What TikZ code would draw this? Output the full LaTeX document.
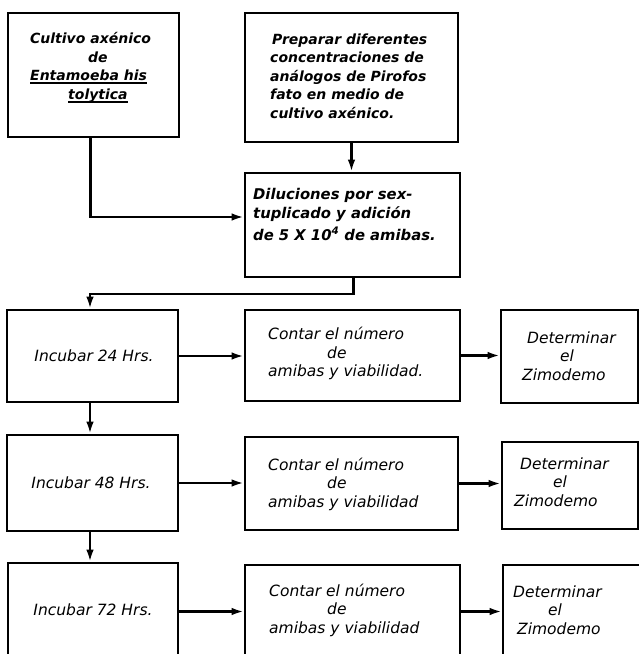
\documentclass[tikz,border=0pt]{standalone}
\usepackage{fontspec}
\setmainfont{DejaVu Sans}
\usetikzlibrary{arrows.meta}
\newcommand\myul[1]{\setbox0\hbox{#1}\rlap{\raisebox{-3.5pt}{\rule{\wd0}{1.8pt}}}\box0}
\begin{document}
\begin{tikzpicture}[x=1pt,y=-1pt,
  box/.style={draw, line width=2.6pt, rectangle, inner sep=0pt},
  arr/.style={line width=2.3pt, -{Latex[length=12pt,width=7.5pt]}},
  txt/.style={font=\fontsize{15.5}{18.5}\selectfont\itshape, align=left, inner sep=0pt},
  btxt/.style={font=\fontsize{14}{18.5}\selectfont\bfseries\itshape, align=left, inner sep=0pt}]
\useasboundingbox (0,0) rectangle (639,654);
\clip (0,0) rectangle (639,654);
% boxes
\node[box, minimum width=171pt, minimum height=124pt] (A) at (93.5,75) {};
\node[box, minimum width=213pt, minimum height=129pt] (B) at (351.5,77.5) {};
\node[box, minimum width=215pt, minimum height=104pt] (C) at (352.5,225) {};
\node[box, minimum width=171pt, minimum height=92pt] (D) at (92.5,356) {};
\node[box, minimum width=215pt, minimum height=91pt] (E) at (352.5,355.5) {};
\node[box, minimum width=137pt, minimum height=93pt] (F) at (569.5,356.5) {};
\node[box, minimum width=171pt, minimum height=96pt] (G) at (92.5,483) {};
\node[box, minimum width=213pt, minimum height=93pt] (H) at (351.5,483.5) {};
\node[box, minimum width=136pt, minimum height=87pt] (I) at (570,485.5) {};
\node[box, minimum width=170pt, minimum height=97pt] (J) at (93,611.5) {};
\node[box, minimum width=215pt, minimum height=93pt] (K) at (352.5,611.5) {};
\node[box, minimum width=137pt, minimum height=95pt] (L) at (571.5,612.5) {};
% texts
\node[btxt, anchor=west] (At) at (30,67.5) {Cultivo axénico\\\hspace*{58pt}de\\\myul{Entamoeba his}\\\hspace*{38pt}\myul{tolytica}};
\node[btxt, anchor=west] (Bt) at (270,76) {\hspace*{2pt}Preparar diferentes\\concentraciones de\\análogos de Pirofos\\fato en medio de\\cultivo axénico.};
\node[btxt, font=\fontsize{14.8}{19}\selectfont\bfseries\itshape, anchor=west] (Ct) at (253,214) {Diluciones por sex-\\tuplicado y adición\\[3pt]de 5 X 10\textsuperscript{4} de amibas.};
\node[txt] (Dt) at (94,356) {Incubar 24 Hrs.};
\node[txt, anchor=west] (Et) at (268,353.5) {Contar el número\\\hspace*{59pt}de\\amibas y viabilidad.};
\node[txt, anchor=west] (Ft) at (522,356) {\hspace*{5pt}Determinar\\\hspace*{38pt}el\\Zimodemo};
\node[txt] (Gt) at (91,483) {Incubar 48 Hrs.};
\node[txt, anchor=west] (Ht) at (268,484) {Contar el número\\\hspace*{59pt}de\\amibas y viabilidad};
\node[txt, anchor=west] (It) at (514,482) {\hspace*{6pt}Determinar\\\hspace*{39pt}el\\Zimodemo};
\node[txt] (Jt) at (93,610) {Incubar 72 Hrs.};
\node[txt, anchor=west] (Kt) at (269,610) {Contar el número\\\hspace*{58pt}de\\amibas y viabilidad};
\node[txt, anchor=west] (Lt) at (513,610) {Determinar\\\hspace*{35pt}el\\\hspace*{4pt}Zimodemo};
% connectors
\draw[arr] ([xshift=-3pt]A.south) |- ([yshift=8pt]C.west);
\draw[arr] (B.south) -- (B.south |- C.north);
\coordinate (cd) at (90,294);
\draw[arr] ([xshift=1pt]C.south) |- (cd) -- (cd |- D.north);
\draw[arr] (D.east) -- (D.east -| E.west);
\draw[arr] (E.east) -- (E.east -| F.west);
\draw[arr] ([xshift=-2.5pt]D.south) -- ([xshift=-2.5pt]D.south |- G.north);
\draw[arr] (G.east) -- (G.east -| H.west);
\draw[arr] (H.east) -- (H.east -| I.west);
\draw[arr] ([xshift=-2.5pt]G.south) -- ([xshift=-2.5pt]G.south |- J.north);
\draw[arr] (J.east) -- (J.east -| K.west);
\draw[arr] (K.east) -- (K.east -| L.west);
\end{tikzpicture}
\end{document}
